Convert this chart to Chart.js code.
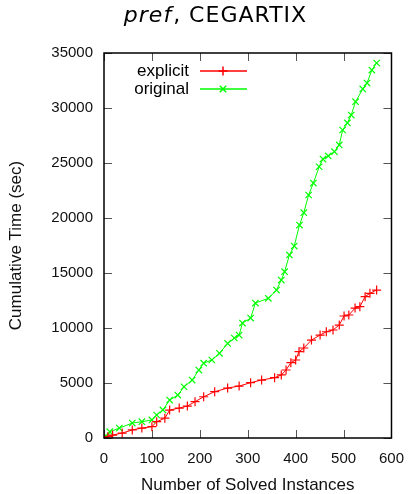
<!DOCTYPE html>
<html>
<head>
<meta charset="utf-8">
<script src="https://cdn.jsdelivr.net/npm/chart.js@4/dist/chart.umd.min.js"></script>
<style>
  html, body { margin: 0; padding: 0; background: #fff; }
  #wrap { width: 416px; height: 494px; position: relative; }
</style>
</head>
<body>
<div id="wrap"><canvas id="c" width="416" height="494"></canvas></div>
<script>
// ---- data ----
const titleItalic = "pref";
const titleRest = ", CEGARTIX";
const xTitle = "Number of Solved Instances";
const yTitle = "Cumulative Time (sec)";
const seriesNames = ["explicit", "original"];
const xTicks = [0, 100, 200, 300, 400, 500, 600];
const yTicks = [0, 5000, 10000, 15000, 20000, 25000, 30000, 35000];

const explicitN = [0, 8, 18, 38, 59, 79, 100, 110, 127, 137, 157, 174, 190, 208, 231, 258, 282, 306, 329, 356, 370, 380, 390, 400, 407, 417, 433, 451, 464, 478, 491, 501, 511, 524, 534, 545, 555, 569];
const explicitT = [0, 120, 270, 450, 730, 900, 1030, 1480, 1800, 2540, 2720, 2900, 3300, 3750, 4210, 4540, 4720, 5030, 5270, 5480, 5730, 6180, 6850, 7090, 7850, 8180, 8900, 9360, 9660, 9820, 10270, 11090, 11180, 11810, 11940, 12850, 13150, 13450];

const originalN = [0, 5, 12, 32, 59, 79, 100, 110, 123, 137, 154, 167, 184, 198, 208, 225, 241, 258, 272, 282, 289, 306, 316, 343, 360, 370, 377, 387, 397, 408, 417, 427, 437, 449, 457, 468, 481, 491, 498, 508, 516, 525, 540, 549, 559, 569];
const originalT = [0, 150, 570, 900, 1360, 1480, 1640, 2090, 2550, 3450, 3900, 4660, 5270, 6180, 6800, 7090, 7700, 8600, 9090, 9360, 10450, 10900, 12270, 12700, 13450, 14360, 15120, 16640, 17450, 19360, 20480, 22090, 23180, 24660, 25360, 25640, 26030, 26640, 28000, 28640, 29360, 30570, 31730, 32270, 33450, 34090];

const colors = ["#ff0000", "#00ff00"];
const markers = ["cross", "crossRot"];

function pairs(xs, ys) { return xs.map((x, i) => ({ x: x, y: ys[i] })); }

const FONT = "'Liberation Sans', Arial, sans-serif";

const framePlugin = {
  id: 'frame',
  beforeDatasetsDraw(chart) {
    const ctx = chart.ctx, a = chart.chartArea;
    const xs = chart.scales.x, ys = chart.scales.y;
    ctx.save();
    ctx.strokeStyle = '#555';
    ctx.lineWidth = 1;
    const L = 8;
    xTicks.forEach(v => {
      const px = Math.round(xs.getPixelForValue(v)) + 0.5;
      ctx.beginPath();
      ctx.moveTo(px, a.bottom); ctx.lineTo(px, a.bottom - L);
      ctx.moveTo(px, a.top); ctx.lineTo(px, a.top + L);
      ctx.stroke();
    });
    yTicks.forEach(v => {
      const py = Math.round(ys.getPixelForValue(v)) + 0.5;
      ctx.beginPath();
      ctx.moveTo(a.left, py); ctx.lineTo(a.left + L, py);
      ctx.moveTo(a.right, py); ctx.lineTo(a.right - L, py);
      ctx.stroke();
    });
    ctx.restore();
  },
  afterDraw(chart) {
    const ctx = chart.ctx, a = chart.chartArea;
    ctx.save();
    // frame
    ctx.strokeStyle = '#000';
    ctx.lineWidth = 1.5;
    ctx.strokeRect(a.left, a.top, a.right - a.left, a.bottom - a.top);
    // title
    ctx.fillStyle = '#000';
    ctx.textBaseline = 'alphabetic';
    ctx.textAlign = 'left';
    const tSize = 22;
    try { ctx.letterSpacing = '1px'; } catch (e) {}
    ctx.font = "italic " + tSize + "px 'DejaVu Sans', sans-serif";
    const w1 = ctx.measureText(titleItalic).width;
    ctx.font = tSize + "px 'DejaVu Sans', sans-serif";
    const w2 = ctx.measureText(titleRest).width;
    const tx = 215 - (w1 + w2) / 2;
    ctx.font = "italic " + tSize + "px 'DejaVu Sans', sans-serif";
    ctx.fillText(titleItalic, tx, 22);
    ctx.font = tSize + "px 'DejaVu Sans', sans-serif";
    ctx.fillText(titleRest, tx + w1 + 1, 22);
    try { ctx.letterSpacing = '0px'; } catch (e) {}
    // legend
    ctx.font = "17px " + FONT;
    ctx.textAlign = 'right';
    ctx.textBaseline = 'middle';
    const ly = [71, 89];
    chart.data.datasets.forEach((ds, i) => {
      ctx.fillStyle = '#000';
      ctx.fillText(ds.label, 189, ly[i]);
      ctx.strokeStyle = ds.borderColor;
      ctx.lineWidth = 1.5;
      ctx.beginPath();
      ctx.moveTo(200, ly[i]); ctx.lineTo(247, ly[i]);
      ctx.stroke();
      Chart.helpers.drawPoint(ctx, {
        pointStyle: ds.pointStyle, radius: 4.5, borderWidth: 1.2, rotation: 0
      }, 223, ly[i]);
    });
    ctx.restore();
  }
};

new Chart(document.getElementById('c'), {
  type: 'line',
  data: {
    datasets: [
      {
        label: seriesNames[0],
        data: pairs(explicitN, explicitT),
        borderColor: colors[0], backgroundColor: colors[0],
        borderWidth: 1, pointStyle: markers[0], pointRadius: 4.5,
        pointBorderWidth: 1.2, pointBorderColor: colors[0], tension: 0, fill: false
      },
      {
        label: seriesNames[1],
        data: pairs(originalN, originalT),
        borderColor: colors[1], backgroundColor: colors[1],
        borderWidth: 1, pointStyle: markers[1], pointRadius: 4.5,
        pointBorderWidth: 1.2, pointBorderColor: colors[1], tension: 0, fill: false
      }
    ]
  },
  options: {
    responsive: false,
    animation: false,
    devicePixelRatio: 1,
    layout: { padding: { top: 53, right: 15, left: 0, bottom: 0 } },
    plugins: { legend: { display: false }, tooltip: { enabled: false }, title: { display: false } },
    scales: {
      x: {
        type: 'linear', min: 0, max: 600,
        afterBuildTicks(s) { s.ticks = xTicks.map(v => ({ value: v })); },
        afterFit(s) { s.height = 56; },
        grid: { display: false, drawTicks: false },
        border: { display: false },
        ticks: { font: { family: FONT, size: 15 }, color: '#111', padding: 12, maxRotation: 0 },
        title: { display: true, text: xTitle, font: { family: FONT, size: 17, lineHeight: 1 }, color: '#111', padding: { top: 0, bottom: 0 } }
      },
      y: {
        type: 'linear', min: 0, max: 35000,
        afterBuildTicks(s) { s.ticks = yTicks.map(v => ({ value: v })); },
        afterFit(s) { s.width = 104; },
        grid: { display: false, drawTicks: false },
        border: { display: false },
        ticks: { font: { family: FONT, size: 15 }, color: '#111', padding: 11, callback: v => String(v) },
        title: { display: true, text: yTitle, font: { family: FONT, size: 17, lineHeight: 1 }, color: '#111', padding: { top: 8, bottom: 0 } }
      }
    }
  },
  plugins: [framePlugin]
});
</script>
</body>
</html>
